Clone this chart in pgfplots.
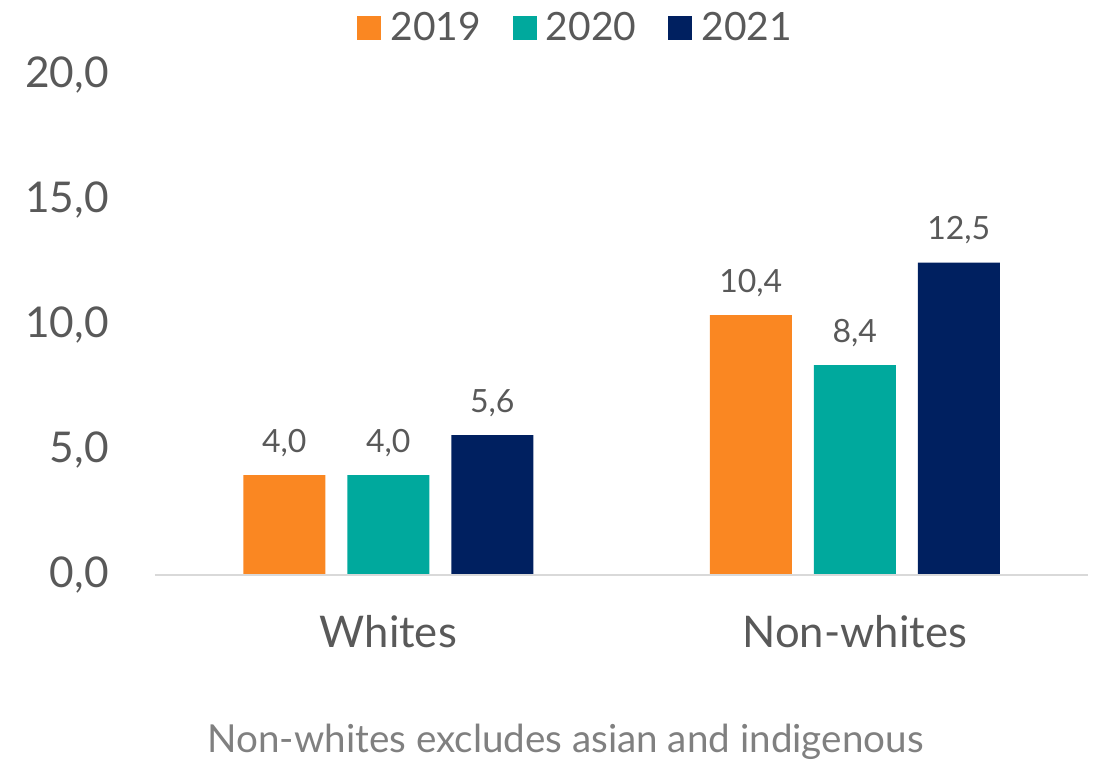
\documentclass[border=0pt]{standalone}
\usepackage{pgfplots}
\pgfplotsset{compat=1.18}
\usepackage{fontspec}
\setmainfont{Lato}
\definecolor{cOrange}{HTML}{FA8722}
\definecolor{cTeal}{HTML}{00A99D}
\definecolor{cNavy}{HTML}{002060}
\definecolor{cText}{HTML}{595959}
\definecolor{cNote}{HTML}{808080}
\definecolor{cBase}{HTML}{D9D9D9}
\begin{document}
\begin{tikzpicture}
\begin{axis}[
  scale only axis,
  width=466.5pt, height=250pt,
  ymin=0, ymax=20,
  xmin=-0.5, xmax=1.5,
  ybar=11pt, bar width=41pt,
  axis lines*=left,
  axis line style={draw=none},
  ytick={0,5,10,15,20},
  xtick={0,1},
  xticklabels={Whites,Non-whites},
  major tick length=0pt,
  tick style={draw=none},
  /pgf/number format/assume math mode=true,
  yticklabel={\pgfmathprintnumber[fixed,fixed zerofill,precision=1,use comma]{\tick}},
  yticklabel style={font=\fontsize{21.2}{25}\selectfont, text=cText, anchor=east, inner sep=0pt, xshift=-23pt},
  xticklabel style={font=\fontsize{21.8}{26}\selectfont, text=cText, anchor=north, inner sep=0pt, yshift=-20pt},
  nodes near coords={\pgfmathprintnumber[fixed,fixed zerofill,precision=1,use comma]{\pgfplotspointmeta}},
  nodes near coords style={font=\fontsize{16}{19}\selectfont, text=cText, anchor=south, inner sep=0pt, yshift=9pt},
  legend style={draw=none, fill=none, legend columns=-1, at={(0.452,1.094)}, anchor=center,
    font=\fontsize{19.5}{23}\selectfont, text=cText,
    /tikz/every odd column/.append style={column sep=2.5pt},
    /tikz/every even column/.append style={column sep=14pt}, inner sep=0pt},
  legend image code/.code={\fill[#1] (0pt,-6pt) rectangle (12pt,6pt);},
  clip=false,
]
\addplot[fill=cOrange, draw=none] coordinates {(0,4.0) (1,10.4)};
\addplot[fill=cTeal, draw=none] coordinates {(0,4.0) (1,8.4)};
\addplot[fill=cNavy, draw=none] coordinates {(0,5.6) (1,12.5)};
\legend{2019,2020,2021}
\draw[cBase, line width=1pt] (rel axis cs:0,0) -- (rel axis cs:1,0);
\node[font=\fontsize{19.3}{22}\selectfont, text=cNote] at (rel axis cs:0.44,-0.334) {Non-whites excludes asian and indigenous};
\end{axis}
\pgfresetboundingbox
\useasboundingbox ([xshift=-77.5pt,yshift=-93pt]current axis.south west) rectangle ([xshift=5.5pt,yshift=37.5pt]current axis.north east);
\end{tikzpicture}
\end{document}
